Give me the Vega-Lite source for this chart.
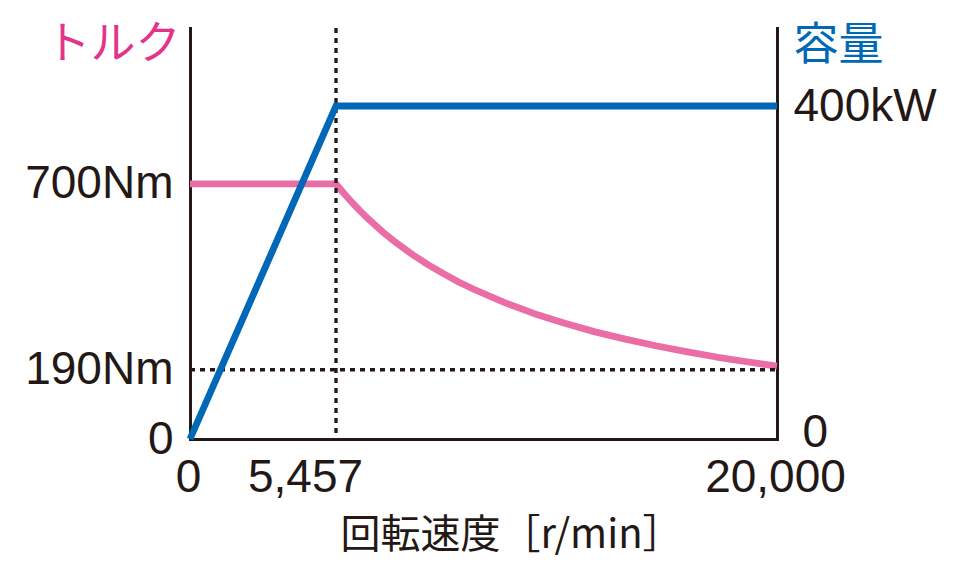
{
  "$schema": "https://vega.github.io/schema/vega-lite/v6.json",
  "width": 587,
  "height": 411,
  "autosize": {"type": "none"},
  "padding": {"left": 190, "top": 28, "right": 183, "bottom": 141},
  "background": "white",
  "config": {
    "view": {"stroke": null},
    "axis": {
      "labelFont": "Liberation Sans",
      "labelFontSize": 46,
      "labelColor": "#231815",
      "domainColor": "#231815",
      "domainWidth": 3,
      "domainCap": "square",
      "ticks": false,
      "grid": false,
      "titleFont": "Noto Sans CJK JP",
      "titleFontWeight": "normal",
      "titleFontSize": 45
    }
  },
  "datasets": {
    "torque": [
      {"rpm": 0, "torque": 700},
      {"rpm": 5457, "torque": 700},
      {"rpm": 5700, "torque": 676},
      {"rpm": 6000, "torque": 648},
      {"rpm": 6250, "torque": 626},
      {"rpm": 6500, "torque": 606},
      {"rpm": 7000, "torque": 568},
      {"rpm": 7500, "torque": 535},
      {"rpm": 8000, "torque": 505},
      {"rpm": 8500, "torque": 478},
      {"rpm": 9000, "torque": 454},
      {"rpm": 9500, "torque": 431},
      {"rpm": 10000, "torque": 411},
      {"rpm": 11000, "torque": 375},
      {"rpm": 12000, "torque": 344},
      {"rpm": 13000, "torque": 318},
      {"rpm": 14000, "torque": 294},
      {"rpm": 15000, "torque": 274},
      {"rpm": 16000, "torque": 256},
      {"rpm": 17000, "torque": 240},
      {"rpm": 18000, "torque": 225},
      {"rpm": 19000, "torque": 212},
      {"rpm": 20000, "torque": 200}
    ],
    "power": [
      {"rpm": 0, "power": 0},
      {"rpm": 5457, "power": 400},
      {"rpm": 20000, "power": 400}
    ],
    "vref": [{"rpm": 5457}],
    "href": [{"rpm": 0, "rpm2": 20000, "torque": 190}]
  },
  "layer": [
    {
      "layer": [
        {
          "data": {"name": "torque"},
          "mark": {"type": "line", "color": "#ea6da6", "strokeWidth": 6.8, "interpolate": "linear", "strokeCap": "butt", "strokeJoin": "round"},
          "encoding": {
            "x": {
              "field": "rpm", "type": "quantitative",
              "scale": {"domain": [0, 5457, 20000], "range": [0, 146, 587], "nice": false, "zero": false},
              "axis": {
                "values": [0, 5457, 20000],
                "format": ",d",
                "labelAlign": "center",
                "labelBaseline": "middle",
                "labelPadding": 38,
                "labelFlush": false,
                "labelOverlap": false,
                "labelOffset": {"condition": {"test": "datum.value == 5457", "value": -31}, "value": -2},
                "title": "回転速度［r/min］",
                "titleColor": "#231815",
                "titleAlign": "center",
                "titleBaseline": "middle",
                "titleX": 321,
                "titleY": 96,
                "titleFontSize": 40
              }
            },
            "y": {
              "field": "torque", "type": "quantitative",
              "scale": {"domain": [0, 1128], "nice": false},
              "axis": {
                "orient": "left",
                "values": [0, 190, 700],
                "labelExpr": "datum.value == 0 ? '0' : datum.value + 'Nm'",
                "labelPadding": 17,
                "labelBaseline": "middle",
                "title": "トルク",
                "titleColor": "#e4338b",
                "titleAngle": 0,
                "titleAlign": "right",
                "titleBaseline": "middle",
                "titleX": -10,
                "titleY": 16
              }
            }
          }
        },
        {
          "data": {"name": "vref"},
          "mark": {"type": "rule", "strokeDash": [5, 5], "strokeWidth": 3.3, "color": "#231815"},
          "encoding": {
            "x": {"field": "rpm", "type": "quantitative"}
          }
        },
        {
          "data": {"name": "href"},
          "mark": {"type": "rule", "strokeDash": [5, 5], "strokeWidth": 3.3, "color": "#231815"},
          "encoding": {
            "x": {"field": "rpm", "type": "quantitative"},
            "x2": {"field": "rpm2"},
            "y": {"field": "torque", "type": "quantitative", "scale": {"domain": [0, 1128], "nice": false}}
          }
        }
      ]
    },
    {
      "data": {"name": "power"},
      "mark": {"type": "line", "color": "#0068b7", "strokeWidth": 6.8, "strokeCap": "butt"},
      "encoding": {
        "x": {"field": "rpm", "type": "quantitative"},
        "y": {
          "field": "power", "type": "quantitative",
          "scale": {"domain": [0, 493.7], "nice": false},
          "axis": {
            "orient": "right",
            "values": [0, 400],
            "labelExpr": "datum.value == 0 ? '0' : datum.value + 'kW'",
            "labelAlign": "left",
            "labelBaseline": "middle",
            "labelPadding": {"condition": {"test": "datum.value == 0", "value": 25}, "value": 16},
            "labelOffset": {"condition": {"test": "datum.value == 0", "value": -7}, "value": 0},
            "title": "容量",
            "titleColor": "#0068b7",
            "titleAngle": 0,
            "titleAlign": "left",
            "titleBaseline": "middle",
            "titleX": 16,
            "titleY": 17
          }
        }
      }
    }
  ],
  "resolve": {"scale": {"y": "independent"}}
}
